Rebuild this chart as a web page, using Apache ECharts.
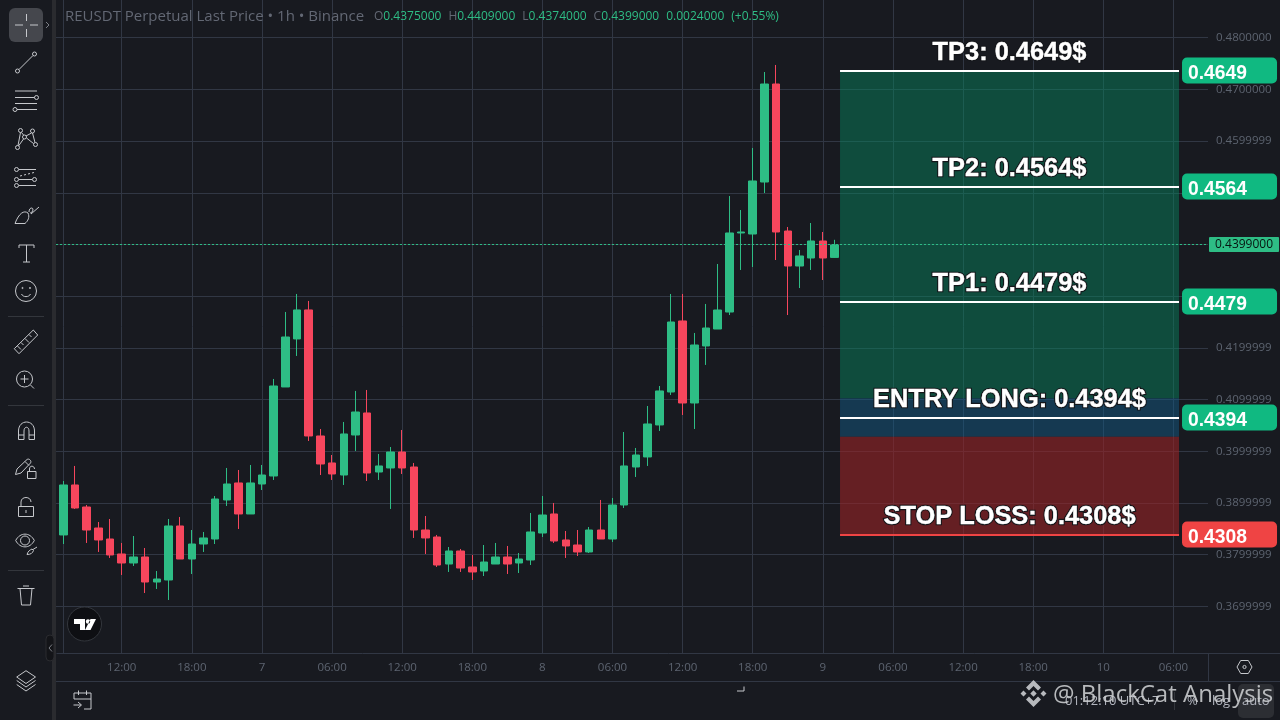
<!DOCTYPE html>
<html><head><meta charset="utf-8">
<style>html,body{margin:0;padding:0;background:#181a20}#c{width:1280px;height:720px}</style>
<script src="https://cdn.jsdelivr.net/npm/echarts@6/dist/echarts.min.js"></script>
</head><body><div id="c"></div>
<script>
// ---- candles (hourly, index = hour from first bar)
const opens  = [.38380,.39347,.38921,.38515,.38302,.38012,.37838,.37954,.37470,.37509,.38554,.37915,.38205,.38302,.39057,.39386,.38786,.39366,.39521,.41243,.42172,.42733,.40295,.39773,.39540,.40314,.40740,.39598,.39676,.39985,.39695,.38476,.38341,.37818,.38070,.37761,.37683,.37818,.37954,.37838,.37896,.38418,.38786,.38283,.38186,.38051,.38476,.38302,.38960,.39695,.39889,.40508,.41146,.42520,.40933,.42036,.42364,.42693,.44222,.44202,.45208,.47104,.44260,.43583,.43738,.44067,.4375];
const closes = [.39347,.38902,.38476,.38283,.37993,.37838,.37954,.37470,.37528,.38554,.37915,.38205,.38322,.39076,.39366,.38786,.39386,.39540,.41262,.42210,.42733,.40295,.39753,.39560,.40334,.40759,.39579,.39715,.39985,.39676,.38476,.38322,.37799,.38070,.37741,.37664,.37857,.37954,.37818,.37915,.38438,.38766,.38263,.38167,.38051,.38476,.38302,.38960,.39715,.39927,.40527,.41166,.42500,.40933,.42055,.42384,.42732,.44222,.44241,.45228,.47104,.44241,.43583,.43777,.44067,.43738,.4399];
const lows   = [.38205,.38883,.38225,.38051,.37935,.37606,.37780,.37257,.37335,.37122,.37915,.37625,.38051,.38205,.38941,.38496,.38786,.39250,.39444,.41243,.41843,.40198,.39540,.39444,.39347,.40005,.39424,.39444,.38883,.39560,.38322,.38012,.37761,.37664,.37664,.37509,.37586,.37818,.37625,.37644,.37799,.38341,.38225,.37935,.37973,.38031,.38302,.38244,.38902,.39502,.39715,.40392,.41088,.40701,.40430,.41669,.42364,.42635,.43506,.43564,.44995,.43699,.42635,.43157,.43506,.43312,.4374];
const highs  = [.39424,.39715,.38960,.38631,.38689,.38225,.38360,.38128,.37683,.38689,.38728,.38476,.38438,.39134,.39676,.39637,.39734,.39734,.41398,.42694,.43042,.42907,.40430,.39927,.40566,.41166,.41185,.39947,.40082,.40411,.39773,.38747,.38380,.38147,.38109,.37993,.38186,.38225,.38167,.38031,.38805,.39134,.38999,.38457,.38476,.38534,.39057,.39095,.40372,.40063,.40875,.41262,.43042,.43042,.42288,.42849,.43622,.44937,.44666,.45866,.47336,.47472,.44338,.43893,.44415,.44241,.4409];
const lastPrice = 0.4399;
const lastPriceLabel = '0.4399000';
// ---- axes
const priceTicks = [.37,.38,.39,.40,.41,.42,.43,.44,.45,.46,.47,.48];
const priceTickLabels = ['0.3699999','0.3799999','0.3899999','0.3999999','0.4099999','0.4199999','0.4299999','0.4399999','0.4499999','0.4599999','0.4700000','0.4800000'];
const timeTicks = [5,11,17,23,29,35,41,47,53,59,65,71,77,83,89,95];
const timeTickLabels = ['12:00','18:00','7','06:00','12:00','18:00','8','06:00','12:00','18:00','9','06:00','12:00','18:00','10','06:00'];
// ---- trade plan
const levelTitles = ['TP3: 0.4649$','TP2: 0.4564$','TP1: 0.4479$','ENTRY LONG: 0.4394$','STOP LOSS: 0.4308$'];
const levelTags = ['0.4649','0.4564','0.4479','0.4394','0.4308'];
const levelAxisValues = [.47362,.45117,.42893,.40648,.38385];
const zoneTops = [.47362,.41024,.40281];
const zoneBottoms = [.41024,.40281,.38385];
const zoneStartHour = 66.47, zoneEndHour = 95.48;

const GREEN='#2ebd85', RED='#f6465d', BG='#181a20', GRID='#313744', AXT='#5d6470', TAG='#10b981', SL='#ef4444';
const FONT='"Open Sans"', ICON='#c6c8cc';
const zoneFill=['rgba(5,138,98,.45)','rgba(18,96,143,.45)','rgba(153,35,39,.6)'];

const hours = opens.map((_,i)=>i);
const candles = hours.map(i=>[i,opens[i],closes[i],lows[i],highs[i]]);

const c=(x,y,r)=>`M${x-r} ${y}a${r} ${r} 0 1 0 ${2*r} 0a${r} ${r} 0 1 0 ${-2*r} 0Z`;
const icons=[
 'M15 25H23M30 25H38M26.5 14V21M26.5 29V37',
 c(17.5,71,2)+'M19 69.5L33 55.5'+c(34.5,54,2),
 'M15 91H37M15 97.5H34.5'+c(36.5,97.5,2)+'M15 103.5H37M17 109.5H37'+c(15,109.5,2),
 c(20.5,130.5,2)+c(32.5,131,2)+c(24.5,137,2)+c(17.5,147.5,2)+c(35.5,144.5,2)+'M20.5 132.5L18 145.5M21.5 132.5L23.5 135M31.5 133L26 136M32.5 133L35 142.5M26.5 138L33.5 143.5M23.5 139L18.5 146',
 c(16.5,169.5,2)+'M19 169.5H36'+c(16.5,179.5,2)+'M19 179.5H32'+c(34.5,179.5,2)+c(16.5,185.5,2)+'M19 185.5H36',
 'M15 223.5H25C28 221 30 217 28 213C24 210 19 213 15 223.5ZM29 212C29 208 32 207 33 209C33 212 31 213 30 213M31 214L39 207',
 'M19 248V245H34V248M26.5 245V262M23 262H30',
 c(26,291,10.5)+c(22.5,288,.6)+c(30,288,.6)+'M21.5 294C23 297.5 29 297.5 30.5 294',
 'M33.3 330L37.7 335L19 353.7L14.3 348.7ZM29 334.5L31.5 337M25 338.5L29 342.5M21 342.5L23.5 345M17.5 346L21 349.5',
 c(24.5,379,8)+'M20.5 379H28.5M24.5 375V383M30.5 385L34 388.5',
 'M18.5 439.5V431C18.5 419 34.5 419 34.5 431V439.5H29V431C29 426 24 426 24 431V439.5ZM18.5 435H24M29 435H34.5',
 'M15.5 474.5L17 469L27 459.5C29 458 32 461 30.5 463L21 473ZM25 461.5L29 465.5M27.5 478.5H36V471.5H27.5ZM29.5 471.5V469C29.5 465 34.5 465.5 34.5 469',
 'M18.5 516.5H33.5V506.5H18.5ZM21 506.5V502C21 496 31 496 31 502M26 510V513',
 'M15.7 540.5C20 532 30 532 34.3 540.5C30 549 20 549 15.7 540.5Z'+c(25,540.5,4.5)+'M27 554.5C28 551 30 550 32 549L33.5 550.5C32.5 553 31 554.5 27 554.5ZM33 549.5L37 547',
 'M17.5 588.5H34.5M20 588.5L21.5 605H30.5L32 588.5M23 586H29',
 'M26 670.7L35.5 677L26 683.5L16.7 677ZM16.7 680.5L26 687L35.5 680.5M16.7 684.5L26 691L35.5 684.5',
 'M74 699V693H91V709H84M74 699H91M78.5 690.5V695M86.5 690.5V695M73.5 705H81M78 702L81.5 705L78 708',
 'M1237 667L1240.7 660.5H1248.3L1252 667L1248.3 673.5H1240.7Z'+c(1244.5,667,1.6),
 'M744 686.5V691H737',
 'M20 176L22 175.5M24 175L26 174.5M28 174L30 173.5M32 173L34 172.5'
];
const dimIcons='M46 22L49 25L46 28M52 644.5L49 648L52 651.5';
const bm=(x,y,r)=>`M${x} ${y-r}L${x+r} ${y}L${x} ${y+r}L${x-r} ${y}Z`;
const binanceLogo = 'M1033.5 680L1041 687.5L1038 690.5L1033.5 686L1029 690.5L1026 687.5ZM1033.5 707L1041 699.5L1038 696.5L1033.5 701L1029 696.5L1026 699.5Z'+bm(1023.5,693.5,3)+bm(1043.5,693.5,3)+bm(1033.5,693.5,3.2);
const tvLogo = 'M74 619H85V630H80V624H74Z'+c(88,621.5,2.2)+'M96 619L90.5 630H85L90.5 619Z';

echarts.graphic.registerShape('toolIcons',echarts.graphic.extendPath(icons.join(''),{}));
echarts.graphic.registerShape('dimIcons',echarts.graphic.extendPath(dimIcons,{}));
echarts.graphic.registerShape('bnLogo',echarts.graphic.extendPath(binanceLogo,{}));
echarts.graphic.registerShape('tvLogo',echarts.graphic.extendPath(tvLogo,{}));

const Z=20;
const seg=(x1,y1,x2,y2,col)=>({type:'line',z:Z,shape:{x1,y1,x2,y2},style:{stroke:col||GRID,lineWidth:1}});
const txt=(text,x,y,fill,fontSize,extra)=>({type:'text',z:Z+2,style:Object.assign({text,x,y,fill,fontSize,fontFamily:FONT,verticalAlign:'middle'},extra||{})});
const KEY={fill:'#636874',fontSize:12,fontFamily:FONT}, VAL={fill:GREEN,fontSize:12,fontFamily:FONT}, GAP={fontSize:13.5,fontFamily:FONT};
const graphics=[
 {type:'rect',z:Z-1,shape:{x:0,y:0,width:52,height:720},style:{fill:BG}},
 {type:'rect',z:Z-1,shape:{x:52,y:0,width:4,height:720},style:{fill:'#2a2b2f'}},
 {type:'rect',z:Z,shape:{x:9,y:8,width:34,height:34,r:6},style:{fill:'#45474d'}},
 {type:'rect',z:Z,shape:{x:46,y:635,width:8,height:26,r:4},style:{fill:'#131418',stroke:'#2a2b2f'}},
 seg(56.5,653.5,1280,653.5), seg(56,681.5,1280,681.5), seg(1208.5,653,1208.5,682),
 seg(8,316.5,44,316.5,'#33363c'), seg(8,405.5,44,405.5,'#33363c'), seg(8,570.5,44,570.5,'#33363c'),
 {type:'toolIcons',z:Z+1,style:{stroke:ICON,fill:'none',lineWidth:1}},
 {type:'dimIcons',z:Z+1,style:{stroke:'#7b7e85',fill:'none',lineWidth:1}},
 {type:'circle',z:Z,shape:{cx:84.5,cy:624,r:17},style:{fill:'#0e0f13',stroke:'#33363c',lineWidth:1}},
 {type:'tvLogo',z:Z+1,style:{fill:'#fff'}},
 txt('REUSDT Perpetual Last Price • 1h • Binance',65,17,'#636874',15),
 {type:'text',z:Z+2,style:{x:374,y:17,fontSize:12,fontFamily:FONT,verticalAlign:'middle',fill:GREEN,
   text:'{k|O}{v|0.4375000}{s|  }{k|H}{v|0.4409000}{s|  }{k|L}{v|0.4374000}{s|  }{k|C}{v|0.4399000}{s|  }{v|0.0024000}{s|  }{v|(+0.55%)}',
   rich:{k:KEY,v:VAL,s:GAP}}},
 {type:'rect',z:Z,shape:{x:1238,y:684,width:36,height:34,r:5},style:{fill:'#2c2e33'}},
 txt('01:12:10 UTC+7',1065,701,'#b2b5be',13),
 seg(1174.5,692,1174.5,710,'#33363c'),
 txt('%',1187,701,'#b2b5be',13),
 txt('log',1212,701,'#b2b5be',13),
 txt('auto',1242,701,'#b2b5be',13),
 {type:'bnLogo',z:Z+3,style:{fill:'#c9cbce',opacity:.9}},
 txt('@ BlackCat Analysis',1053,695,'rgba(205,207,210,.88)',24,{})
];

const chart=echarts.init(document.getElementById('c'),null,{renderer:'canvas',width:1280,height:720});
chart.setOption({
 animation:false,
 backgroundColor:BG,
 grid:{left:56,top:0,width:1152,height:653.5,containLabel:false},
 xAxis:{type:'value',min:-0.625,max:97.96,position:'bottom',
   axisLine:{show:false},
   axisTick:{show:false,customValues:timeTicks},
   axisLabel:{customValues:timeTicks,margin:8,color:AXT,fontSize:11.5,fontFamily:FONT,
     formatter:v=>timeTickLabels[timeTicks.indexOf(v)]},
   splitLine:{show:true,lineStyle:{color:GRID,width:1}}},
 yAxis:{type:'value',min:0.36087,max:0.48729,position:'right',
   axisLine:{show:true,lineStyle:{color:GRID}},
   axisTick:{show:false,customValues:priceTicks},
   axisLabel:{customValues:priceTicks,margin:8,color:AXT,fontSize:11.5,fontFamily:FONT,
     formatter:v=>priceTickLabels[priceTicks.indexOf(v)]},
   splitLine:{show:true,lineStyle:{color:GRID,width:1}}},
 graphic:{elements:graphics},
 series:[
  {type:'custom',name:'zones',z:1,silent:true,
   data:zoneTops.map((t,i)=>[zoneStartHour,zoneEndHour,t,zoneBottoms[i],i]),
   encode:{x:[0,1],y:[2,3]},
   renderItem(p,api){
     const a=api.coord([api.value(0),api.value(2)]), b=api.coord([api.value(1),api.value(3)]);
     return {type:'rect',shape:{x:a[0],y:a[1],width:b[0]-a[0],height:b[1]-a[1]},style:{fill:zoneFill[api.value(4)]}};
   }},
  {type:'candlestick',name:'REUSDT',z:3,barWidth:8,silent:true,
   encode:{x:0,y:[1,2,3,4]},
   data:candles,
   itemStyle:{color:GREEN,color0:RED,borderColor:GREEN,borderColor0:RED,borderWidth:1},
   markLine:{silent:true,symbol:'none',animation:false,
     lineStyle:{color:GREEN,type:[2,2],width:1},
     label:{show:true,position:'end',distance:1,formatter:lastPriceLabel,color:'#071410',fontSize:12,fontFamily:FONT,
       backgroundColor:GREEN,padding:[2,6,1,6],borderRadius:1},
     data:[{yAxis:lastPrice}]}},
  {type:'custom',name:'levels',z:5,silent:true,
   data:levelAxisValues.map((v,i)=>[zoneStartHour,v,i,zoneEndHour]),
   encode:{x:[0,3],y:1},
   renderItem(p,api){
     const i=api.value(2), a=api.coord([api.value(0),api.value(1)]), b=api.coord([api.value(3),api.value(1)]);
     const col=i===4?SL:TAG, lineCol=i===4?SL:'#fff', y=Math.round(a[1]);
     const mid=(a[0]+b[0])/2;
     const head={text:levelTitles[i],x:mid,y:y-18,fontSize:25.4,fontWeight:'bold',fontFamily:'"Liberation Sans"',align:'center',verticalAlign:'middle'};
     return {type:'group',children:[
       {type:'rect',shape:{x:a[0],y:y-1,width:b[0]-a[0],height:2},style:{fill:lineCol}},
       {type:'text',z2:1,style:Object.assign({},head,{fill:'none',stroke:'#14161a',lineWidth:2.6})},
       {type:'text',z2:2,style:Object.assign({},head,{fill:'#fff',stroke:'#fff',lineWidth:.4})},
       {type:'rect',shape:{x:b[0]+3,y:y-13.5,width:95,height:26,r:5},style:{fill:col}},
       {type:'text',style:{text:levelTags[i],x:b[0]+9,y:y+3,fill:'#fff',fontSize:19.3,fontWeight:'bold',fontFamily:'"Liberation Sans"',align:'left',verticalAlign:'middle'}}
     ]};
   }}
 ]
});
</script></body></html>
